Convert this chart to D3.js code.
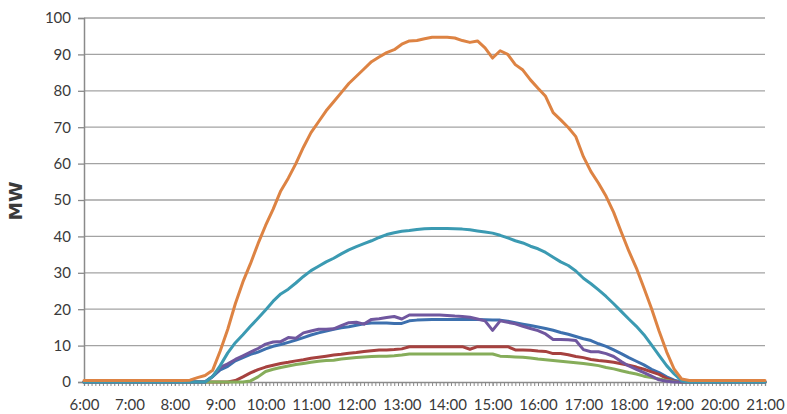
<!DOCTYPE html>
<html>
<head>
<meta charset="utf-8">
<script src="https://cdn.jsdelivr.net/npm/d3@7/dist/d3.min.js"></script>
<style>
  html, body { margin: 0; padding: 0; background: #ffffff; }
  svg { display: block; }
  text { font-family: Lato, "Open Sans", sans-serif; fill: #3a3a3a; }
</style>
</head>
<body>
<svg id="chart" width="787" height="414"></svg>
<script>
// ---- DATA (10-minute steps from 6:00 to 21:00) ----
const startMinute = 6 * 60;
const stepMinutes = 10;
const hourLabels = ["6:00","7:00","8:00","9:00","10:00","11:00","12:00","13:00","14:00","15:00","16:00","17:00","18:00","19:00","20:00","21:00"];
const yTicks = [0, 10, 20, 30, 40, 50, 60, 70, 80, 90, 100];
const yTitle = "MW";

// one row per hour (6 values = :00 :10 :20 :30 :40 :50)
const seriesBlue = [
  0,0,0,0,0,0,
  0,0,0,0,0,0,
  0,0,0,0,0,1.5,
  3.3,4.3,5.8,6.7,7.6,8.2,
  9.1,9.8,10.3,10.9,11.5,12.2,
  12.9,13.5,14,14.5,14.9,15.2,
  15.6,16,16.2,16.2,16.2,16.1,
  16.1,16.8,17,17.1,17.2,17.2,
  17.2,17.2,17.2,17.2,17.2,17.1,
  17,17,16.7,16.3,15.9,15.5,
  15.1,14.7,14.2,13.6,13.1,12.5,
  11.9,11.4,10.5,9.8,8.8,7.8,
  6.7,5.7,4.7,3.5,2.6,1.4,
  0.5,0,0,0,0,0,
  0,0,0,0,0,0,
  0
];
const seriesRed = [
  0,0,0,0,0,0,
  0,0,0,0,0,0,
  0,0,0,0,0,0,
  0,0,0.4,1.4,2.5,3.4,
  4.1,4.6,5.1,5.4,5.8,6.1,
  6.5,6.8,7.1,7.4,7.6,7.9,
  8.1,8.4,8.6,8.8,8.8,8.9,
  9.1,9.7,9.7,9.7,9.7,9.7,
  9.7,9.7,9.7,9.0,9.7,9.7,
  9.7,9.7,9.7,8.8,8.8,8.7,
  8.5,8.4,7.8,7.8,7.5,7.0,
  6.7,6.2,5.9,5.7,5.4,5.0,
  4.6,4.1,3.5,2.8,2.1,1.0,
  0.2,0,0,0,0,0,
  0,0,0,0,0,0,
  0
];
const seriesGreen = [
  0,0,0,0,0,0,
  0,0,0,0,0,0,
  0,0,0,0,0,0,
  0,0,0,0,0.3,1.4,
  2.9,3.5,4.0,4.4,4.8,5.1,
  5.4,5.7,5.9,6.0,6.3,6.5,
  6.7,6.9,7.0,7.1,7.1,7.2,
  7.4,7.7,7.7,7.7,7.7,7.7,
  7.7,7.7,7.7,7.7,7.7,7.7,
  7.7,7.1,7.0,6.9,6.8,6.6,
  6.3,6.1,5.9,5.7,5.5,5.3,
  5.1,4.8,4.5,4.0,3.6,3.1,
  2.6,2.2,1.6,1.2,0.8,0.4,
  0.1,0,0,0,0,0,
  0,0,0,0,0,0,
  0
];
const seriesPurple = [
  0,0,0,0,0,0,
  0,0,0,0,0,0,
  0,0,0,0,0,1.5,
  4,5,6.2,7.2,8.2,9.2,
  10.4,11,11.1,12.2,12,13.5,
  14,14.5,14.5,14.6,15.5,16.3,
  16.4,15.9,17.2,17.4,17.7,18,
  17.3,18.4,18.4,18.4,18.4,18.4,
  18.3,18.1,18,17.8,17.3,16.8,
  14.2,16.8,16.4,16,15.3,14.7,
  14.1,13.2,11.7,11.7,11.6,11.4,
  8.9,8.3,8.3,7.8,7.0,5.6,
  4.4,3.5,2.6,1.6,0.6,0.2,
  0,0,0,0,0,0,
  0,0,0,0,0,0,
  0
];
const seriesTeal = [
  0,0,0,0,0,0,
  0,0,0,0,0,0,
  0,0,0,0,0,1.5,
  4.5,8,10.8,13,15.3,17.5,
  19.8,22.2,24.2,25.5,27.2,29,
  30.6,31.8,33,34,35.2,36.3,
  37.2,38,38.8,39.7,40.5,41,
  41.4,41.6,41.9,42.1,42.2,42.2,
  42.2,42.1,42,41.8,41.5,41.2,
  40.9,40.3,39.6,38.8,38.2,37.3,
  36.6,35.6,34.3,33,32,30.5,
  28.5,27,25.3,23.5,21.5,19.4,
  17.3,15.3,13,10.2,7.3,4.5,
  2.2,0.3,0,0,0,0,
  0,0,0,0,0,0,
  0
];
const seriesOrange = [
  0.4,0.4,0.4,0.4,0.4,0.4,
  0.4,0.4,0.4,0.4,0.4,0.4,
  0.4,0.4,0.5,1.2,1.8,3.2,
  8.5,14.5,21.5,27.5,32.5,38,
  43,47.5,52.5,56,60,64.5,
  68.5,71.5,74.5,77,79.5,82,
  84,86,88,89.3,90.5,91.3,
  92.8,93.7,93.8,94.3,94.7,94.7,
  94.7,94.5,93.8,93.3,93.7,91.8,
  89,91,90,87.2,85.7,83,
  80.7,78.5,74,72,69.9,67.4,
  61.9,57.8,54.6,51,46.6,41.2,
  36,31.3,25.8,20.2,14,8.3,
  3.5,0.8,0.4,0.4,0.4,0.4,
  0.4,0.4,0.4,0.4,0.4,0.4,
  0.4
];

const seriesList = [
  { name: "Blue",   values: seriesBlue,   color: "#3d70ae" },
  { name: "Red",    values: seriesRed,    color: "#a6413f" },
  { name: "Green",  values: seriesGreen,  color: "#86ad5a" },
  { name: "Purple", values: seriesPurple, color: "#70579f" },
  { name: "Teal",   values: seriesTeal,   color: "#3b9ab2" },
  { name: "Orange", values: seriesOrange, color: "#dd8343" }
];

// ---- CHART ----
const svg = d3.select("#chart");
const plotLeft = 84, plotRight = 765, plotTop = 18, plotBottom = 382;

const x = d3.scaleLinear().domain([6 * 60, 21 * 60]).range([plotLeft, plotRight]);
const y = d3.scaleLinear().domain([0, 100]).range([plotBottom, plotTop]);

// gridlines
svg.append("g")
  .selectAll("line")
  .data(yTicks.filter(d => d > 0))
  .join("line")
  .attr("x1", plotLeft).attr("x2", plotRight)
  .attr("y1", d => y(d)).attr("y2", d => y(d))
  .attr("stroke", "#a3a3a3")
  .attr("stroke-width", 1.3);

// y axis
const yAxis = svg.append("g")
  .attr("transform", `translate(${plotLeft},0)`)
  .call(d3.axisLeft(y).tickValues(yTicks).tickSize(6).tickPadding(7).tickFormat(d3.format("d")));
yAxis.select(".domain").attr("stroke", "#8a8a8a").attr("stroke-width", 1.5);
yAxis.selectAll(".tick line").attr("stroke", "#8a8a8a").attr("stroke-width", 1.3);
yAxis.selectAll("text").attr("font-size", 15).attr("fill", "#3a3a3a").style("font-family", "Lato, sans-serif");

// x minor ticks (every 5 minutes)
const minorTicks = d3.range(6 * 60, 21 * 60 + 1, 5);
const xMinor = svg.append("g")
  .attr("transform", `translate(0,${plotBottom})`)
  .call(d3.axisBottom(x).tickValues(minorTicks).tickSize(4).tickFormat(""));
xMinor.select(".domain").attr("stroke", "#8a8a8a").attr("stroke-width", 1.3);
xMinor.selectAll(".tick line").attr("stroke", "#8a8a8a").attr("stroke-width", 1);

// x hour labels
const hourValues = hourLabels.map(s => { const p = s.split(":"); return (+p[0]) * 60 + (+p[1]); });
const xAxis = svg.append("g")
  .attr("transform", `translate(0,${plotBottom})`)
  .call(d3.axisBottom(x).tickValues(hourValues).tickSize(4).tickPadding(13)
    .tickFormat((d, i) => hourLabels[i]));
xAxis.select(".domain").remove();
xAxis.selectAll(".tick line").attr("stroke", "#8a8a8a").attr("stroke-width", 1);
xAxis.selectAll("text").attr("font-size", 15).attr("fill", "#3a3a3a").style("font-family", "Lato, sans-serif");

// y title
svg.append("text")
  .attr("transform", "translate(22,201) rotate(-90)")
  .attr("text-anchor", "middle")
  .attr("font-size", 17)
  .attr("font-weight", "bold")
  .attr("textLength", 39)
  .attr("lengthAdjust", "spacingAndGlyphs")
  .style("font-family", "'DejaVu Sans', sans-serif")
  .attr("fill", "#1a1a1a")
  .text(yTitle);

// lines
const line = d3.line()
  .x((d, i) => x(startMinute + i * stepMinutes))
  .y(d => y(d));

svg.append("g")
  .selectAll("path")
  .data(seriesList)
  .join("path")
  .attr("d", s => line(s.values))
  .attr("fill", "none")
  .attr("stroke", s => s.color)
  .attr("stroke-width", 3)
  .attr("stroke-linejoin", "round")
  .attr("stroke-linecap", "round");
</script>
</body>
</html>
